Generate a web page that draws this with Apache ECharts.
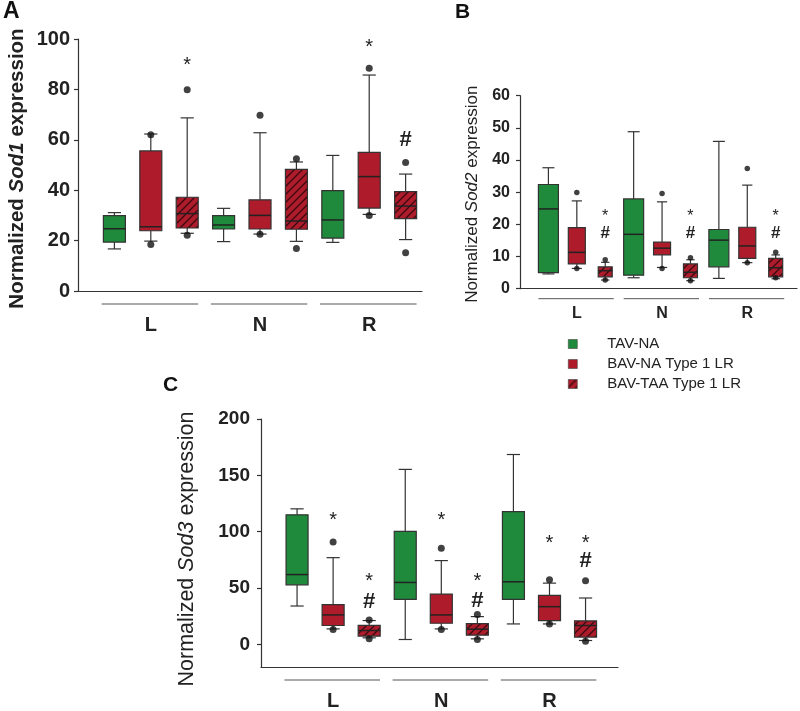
<!DOCTYPE html>
<html><head><meta charset="utf-8">
<script src="https://cdn.jsdelivr.net/npm/echarts@6/dist/echarts.min.js"></script>
<style>html,body{margin:0;padding:0;background:#fff}#c{width:800px;height:711px}</style>
</head><body><div id="c"></div>
<script>
// ---------------- DATA ----------------
const regions = ['L', 'N', 'R'];
const groupNames = ['TAV-NA', 'BAV-NA Type 1 LR', 'BAV-TAA Type 1 LR'];

// Five-number summaries [low whisker, Q1, median, Q3, high whisker] for regions L, N, R
// Panel A: Sod1
const sod1TAV    = [[16.7, 19.4, 24.7, 29.9, 31.1], [19.6, 24.6, 26.2, 29.9, 32.8], [19.3, 21.0, 28.2, 39.8, 53.8]];
const sod1BAVNA  = [[19.8, 23.9, 25.5, 55.6, 62.3], [22.6, 24.6, 30.0, 36.2, 62.8], [30.4, 32.9, 45.4, 55.0, 85.7]];
const sod1BAVTAA = [[22.9, 25.0, 30.7, 37.2, 68.7], [19.7, 24.5, 27.8, 48.3, 51.2], [20.4, 28.7, 33.7, 39.4, 46.4]];
const sod1TAVOut    = [[], [], []];
const sod1BAVNAOut  = [[18.5, 62.0], [22.5, 69.7], [30.0, 88.4]];
const sod1BAVTAAOut = [[22.1, 79.9], [16.9, 52.5], [15.2, 51.0]];
// significance marks: [region index, group index, value, symbol]
const sod1Marks = [[0, 2, 91.3, '*'], [2, 1, 98.3, '*'], [2, 2, 59.9, '#']];

// Panel B: Sod2
const sod2TAV    = [[4.6, 5.0, 24.8, 32.4, 37.6], [3.4, 4.2, 16.9, 27.9, 48.8], [3.2, 6.8, 15.1, 18.4, 45.8]];
const sod2BAVNA  = [[6.3, 7.7, 11.3, 19.0, 27.3], [6.6, 10.5, 12.6, 14.5, 27.0], [8.1, 9.4, 13.3, 19.1, 32.2]];
const sod2BAVTAA = [[2.7, 3.7, 5.6, 6.8, 8.2], [2.5, 3.4, 5.1, 7.7, 9.0], [3.1, 3.7, 6.5, 9.4, 10.5]];
const sod2TAVOut    = [[], [], []];
const sod2BAVNAOut  = [[6.3, 29.9], [6.3, 29.6], [8.1, 37.4]];
const sod2BAVTAAOut = [[2.7, 9.0], [2.5, 9.6], [3.4, 11.3]];
const sod2Marks = [[0, 2, 23.4, '*'], [0, 2, 17.2, '#'], [1, 2, 23.4, '*'], [1, 2, 17.2, '#'], [2, 2, 23.4, '*'], [2, 2, 17.2, '#']];

// Panel C: Sod3
const sod3TAV    = [[34.1, 52.9, 62.0, 115.0, 120.3], [4.4, 40.0, 55.0, 100.3, 155.3], [18.2, 40.0, 55.6, 117.9, 168.5]];
const sod3BAVNA  = [[13.8, 16.8, 26.2, 35.3, 77.0], [13.8, 18.8, 26.2, 44.7, 74.4], [18.2, 21.2, 33.5, 43.5, 54.4]];
const sod3BAVTAA = [[5.9, 7.4, 12.4, 17.0, 21.2], [5.0, 8.2, 13.5, 18.5, 24.7], [3.5, 6.5, 16.8, 20.9, 41.2]];
const sod3TAVOut    = [[], [], []];
const sod3BAVNAOut  = [[13.2, 90.9], [13.2, 85.3], [18.2, 57.4]];
const sod3BAVTAAOut = [[5.0, 21.8], [4.4, 26.5], [2.9, 56.5]];
const sod3Marks = [[0, 1, 113.8, '*'], [1, 1, 113.8, '*'], [2, 1, 93.2, '*'],
                   [0, 2, 59.4, '*'], [0, 2, 37.4, '#'], [1, 2, 59.4, '*'], [1, 2, 38.8, '#'],
                   [2, 2, 93.2, '*'], [2, 2, 74.1, '#']];

// y-axis ticks
const sod1Ticks = [0, 20, 40, 60, 80, 100];
const sod2Ticks = [0, 10, 20, 30, 40, 50, 60];
const sod3Ticks = [0, 50, 100, 150, 200];

// ---------------- STYLE ----------------
const FONT = '"Liberation Sans", Arial, Helvetica, sans-serif';
const GREEN = '#1f8a3b';
const RED = '#ae1b2b';
const AXIS = '#333';

function makeHatch() {
  const s = 8;
  const cv = document.createElement('canvas');
  cv.width = s; cv.height = s;
  const ctx = cv.getContext('2d');
  ctx.fillStyle = RED; ctx.fillRect(0, 0, s, s);
  ctx.strokeStyle = '#3a0a10'; ctx.lineWidth = 1.3;
  ctx.beginPath();
  ctx.moveTo(0, s); ctx.lineTo(s, 0);
  ctx.moveTo(-2, 2); ctx.lineTo(2, -2);
  ctx.moveTo(s - 2, s + 2); ctx.lineTo(s + 2, s - 2);
  ctx.stroke();
  return { image: cv, repeat: 'repeat' };
}
const HATCH = makeHatch();
const fills = [GREEN, RED, HATCH];

const panels = [
  { key: 'A', stats: [sod1TAV, sod1BAVNA, sod1BAVTAA], outs: [sod1TAVOut, sod1BAVNAOut, sod1BAVTAAOut], marks: sod1Marks, ticks: sod1Ticks,
    gene: 'Sod1', grid: { left: 78, top: 39, width: 344, height: 252 }, xMax: 9.45, yMin: 0, yMax: 100,
    boxW: [22, 22, 22], tickFont: 20, nameFont: 20.5, nameBold: true, nameGap: 50, namePad: [0, 7, 0, 0], labelMargin: 8,
    grpFont: 20, grpMargin: 24, lineOff: 13, dot: 7, starFont: 20, hashFont: 22 },
  { key: 'B', stats: [sod2TAV, sod2BAVNA, sod2BAVTAA], outs: [sod2TAVOut, sod2BAVNAOut, sod2BAVTAAOut], marks: sod2Marks, ticks: sod2Ticks,
    gene: 'Sod2', grid: { left: 520, top: 95.7, width: 277, height: 193 }, xMax: 9.75, yMin: 0, yMax: 60,
    boxW: [20, 17, 14], tickFont: 16, nameFont: 17, nameBold: false, nameGap: 39, namePad: [0, 4, 0, 0], labelMargin: 10,
    grpFont: 16, grpMargin: 17, lineOff: 10, dot: 5.5, starFont: 16, hashFont: 17 },
  { key: 'C', stats: [sod3TAV, sod3BAVNA, sod3BAVTAA], outs: [sod3TAVOut, sod3BAVNAOut, sod3BAVTAAOut], marks: sod3Marks, ticks: sod3Ticks,
    gene: 'Sod3', grid: { left: 261, top: 419, width: 357, height: 249.4 }, xMax: 9.9, yMin: -20, yMax: 200,
    boxW: [22, 22, 22], tickFont: 19, nameFont: 21.5, nameBold: false, nameGap: 63, namePad: [0, 12, 0, 0], labelMargin: 11,
    grpFont: 20, grpMargin: 24, lineOff: 13, dot: 7, starFont: 20, hashFont: 22 }
];

const grids = [], xAxes = [], yAxes = [], series = [];

panels.forEach((p, pi) => {
  grids.push(p.grid);
  xAxes.push({
    type: 'value', gridIndex: pi, min: 0, max: p.xMax,
    axisLine: { show: true, onZero: false, lineStyle: { color: AXIS, width: 1.2 } },
    axisTick: { show: false }, splitLine: { show: false },
    axisLabel: {
      customValues: [2, 5, 8], formatter: v => regions[Math.round((v - 2) / 3)],
      fontFamily: FONT, fontWeight: 'bold', fontSize: p.grpFont, color: '#222', margin: p.grpMargin
    }
  });
  const fw = p.nameBold ? 'bold' : 'normal';
  yAxes.push({
    type: 'value', gridIndex: pi, min: p.yMin, max: p.yMax,
    name: '{n|Normalized }{i|' + p.gene + '}{n| expression}',
    nameLocation: 'middle', nameRotate: 90, nameGap: p.nameGap,
    nameTextStyle: { padding: p.namePad, rich: {
      n: { fontFamily: FONT, fontSize: p.nameFont, fontWeight: fw, color: '#222' },
      i: { fontFamily: FONT, fontSize: p.nameFont, fontWeight: fw, fontStyle: 'italic', color: '#222' } } },
    axisLine: { show: true, lineStyle: { color: AXIS, width: 1.2 } },
    axisTick: { show: true, customValues: p.ticks, length: 4, lineStyle: { color: AXIS, width: 1.2 } },
    splitLine: { show: false },
    axisLabel: { customValues: p.ticks, fontFamily: FONT, fontWeight: 'bold', fontSize: p.tickFont, color: '#222', margin: p.labelMargin }
  });

  // group underlines (L, N, R)
  series.push({
    type: 'custom', xAxisIndex: pi, yAxisIndex: pi, silent: true, clip: false,
    data: regions.map((r, i) => [i * 3 + 2, p.yMin]),
    renderItem: (params, api) => {
      const a = api.coord([api.value(0) - 1.35, api.value(1)]);
      const b = api.coord([api.value(0) + 1.3, api.value(1)]);
      return { type: 'line', shape: { x1: a[0], y1: a[1] + p.lineOff, x2: b[0], y2: b[1] + p.lineOff },
        style: { stroke: '#555', lineWidth: 1 } };
    }
  });

  // boxes
  p.stats.forEach((st, g) => {
    const w = p.boxW[g];
    series.push({
      type: 'custom', name: groupNames[g], xAxisIndex: pi, yAxisIndex: pi, clip: false,
      itemStyle: { color: fills[g] },
      encode: { x: 0, y: [1, 2, 3, 4, 5] },
      data: st.map((d, i) => [i * 3 + g + 1].concat(d)),
      renderItem: (params, api) => {
        const x = api.value(0);
        const lo = api.coord([x, api.value(1)]), q1 = api.coord([x, api.value(2)]),
              md = api.coord([x, api.value(3)]), q3 = api.coord([x, api.value(4)]),
              hi = api.coord([x, api.value(5)]);
        const cx = lo[0], hw = w / 2, cw = w * 0.3;
        const ls = { stroke: '#333', lineWidth: 1.2 };
        return { type: 'group', children: [
          { type: 'line', shape: { x1: cx, y1: hi[1], x2: cx, y2: q3[1] }, style: ls },
          { type: 'line', shape: { x1: cx - cw, y1: hi[1], x2: cx + cw, y2: hi[1] }, style: ls },
          { type: 'line', shape: { x1: cx, y1: q1[1], x2: cx, y2: lo[1] }, style: ls },
          { type: 'line', shape: { x1: cx - cw, y1: lo[1], x2: cx + cw, y2: lo[1] }, style: ls },
          { type: 'rect', shape: { x: cx - hw, y: q3[1], width: w, height: q1[1] - q3[1] },
            style: { fill: fills[g], stroke: '#333', lineWidth: 1.2 } },
          { type: 'line', shape: { x1: cx - hw, y1: md[1], x2: cx + hw, y2: md[1] }, style: { stroke: '#222', lineWidth: 1.5 } }
        ] };
      }
    });
    // outliers
    const od = [];
    p.outs[g].forEach((vals, i) => vals.forEach(v => od.push([i * 3 + g + 1, v])));
    series.push({
      type: 'scatter', xAxisIndex: pi, yAxisIndex: pi, silent: true, z: 5,
      symbol: 'circle', symbolSize: p.dot, itemStyle: { color: '#111' }, data: od
    });
  });

  // significance marks
  series.push({
    type: 'custom', xAxisIndex: pi, yAxisIndex: pi, silent: true, clip: false, z: 6,
    data: p.marks.map(m => ({ value: [m[0] * 3 + m[1] + 1, m[2]], name: m[3] })),
    renderItem: (params, api) => {
      const c = api.coord([api.value(0), api.value(1)]);
      const t = p.marks[params.dataIndex][3];
      const star = t === '*';
      const fs = star ? p.starFont : p.hashFont;
      return { type: 'text', x: c[0], y: c[1] + (star ? fs * 0.22 : 0),
        style: { text: t, fontFamily: FONT, fontSize: fs, fontWeight: star ? 'normal' : 'bold',
          fill: '#222', align: 'center', verticalAlign: 'middle' } };
    }
  });
});

const option = {
  backgroundColor: '#fff',
  animation: false,
  title: [
    { text: 'A', left: 3, top: 0, textStyle: { fontFamily: FONT, fontSize: 23, fontWeight: 'bold', color: '#111' }, padding: 0 },
    { text: 'B', left: 455, top: 2, textStyle: { fontFamily: FONT, fontSize: 21, fontWeight: 'bold', color: '#111' }, padding: 0 },
    { text: 'C', left: 163, top: 375, textStyle: { fontFamily: FONT, fontSize: 21, fontWeight: 'bold', color: '#111' }, padding: 0 }
  ],
  legend: {
    orient: 'vertical', left: 563, top: 331, itemWidth: 9, itemHeight: 9, itemGap: 4,
    data: groupNames, selectedMode: false,
    icon: 'rect',
    itemStyle: { borderColor: '#444', borderWidth: 0.6 },
    formatter: name => '{g|}' + name,
    textStyle: { fontFamily: FONT, fontSize: 15, color: '#222', lineHeight: 16,
      rich: { g: { width: 25 } } }
  },
  grid: grids, xAxis: xAxes, yAxis: yAxes, series: series
};

const chart = echarts.init(document.getElementById('c'), null, { renderer: 'canvas' });
chart.setOption(option);
</script>
</body></html>
